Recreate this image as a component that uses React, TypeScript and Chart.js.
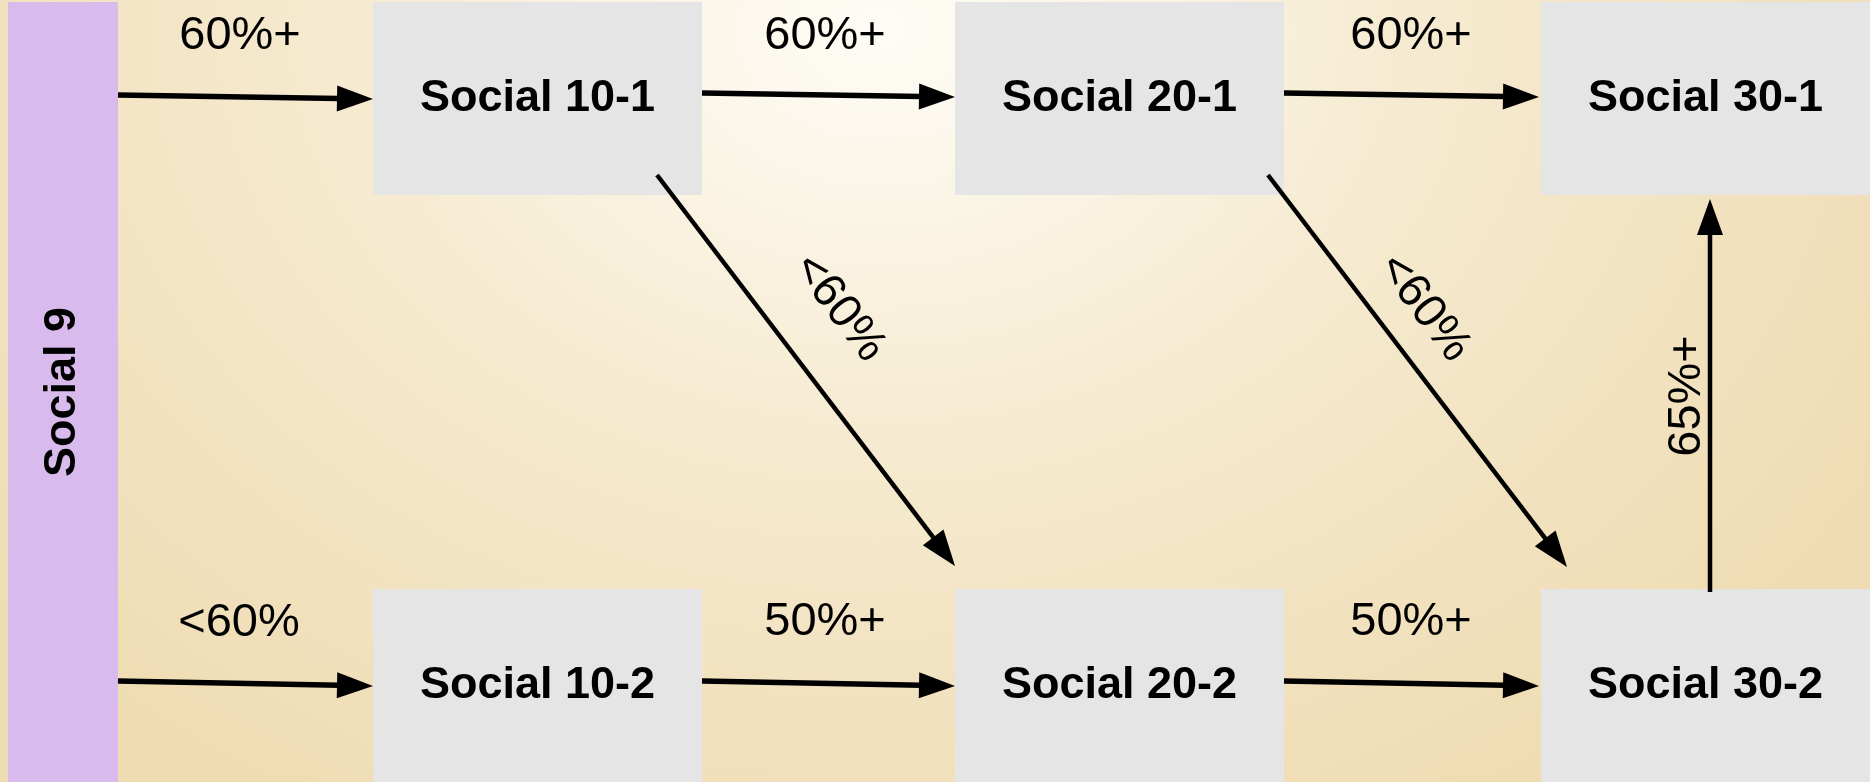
import { useEffect, useRef } from "react";
import { Chart, registerables } from "chart.js";

Chart.register(...registerables);

// ---- Diagram data (in the chart's data coordinate space: x 0..1870, y 0..782 top-down) ----
const nodeNames = ["Social 9", "Social 10-1", "Social 20-1", "Social 30-1", "Social 10-2", "Social 20-2", "Social 30-2"];
const nodeLeft = [8, 373, 955, 1541, 373, 955, 1541];
const nodeRight = [118, 702, 1284, 1870, 702, 1284, 1870];
const nodeTop = [2, 2, 2, 2, 589, 589, 589];
const nodeBottom = [782, 195, 195, 195, 782, 782, 782];
const nodeVertical = [true, false, false, false, false, false, false];
const nodeColors = ["#d8bbec", "#e5e5e5", "#e5e5e5", "#e5e5e5", "#e5e5e5", "#e5e5e5", "#e5e5e5"];

const edgeFromX = [118, 702, 1284, 118, 702, 1284, 657, 1268, 1710];
const edgeFromY = [95, 93, 93, 681, 681, 681, 175, 175, 592];
const edgeToX = [373, 955, 1539, 373, 955, 1539, 955, 1567, 1710];
const edgeToY = [99, 97, 97, 686, 686, 686, 566, 567, 199];
const edgeWidths = [5.5, 5.5, 5.5, 5.5, 5.5, 5.5, 4.5, 4.5, 4.5];
const edgeLabels = ["60%+", "60%+", "60%+", "<60%", "50%+", "50%+", "<60%", "<60%", "65%+"];
const labelX = [240, 825, 1411, 239, 825, 1411, 839, 1424, 1687];
const labelY = [36, 36, 36, 623, 622, 622, 308, 308, 396];
const labelAlong = [false, false, false, false, false, false, true, true, true];

const FONT = '"Liberation Sans", Arial, Helvetica, sans-serif';

const diagramPlugin = {
  id: "diagram",
  beforeDraw(chart: any) {
    const { ctx, scales } = chart;
    const xs = scales.x;
    const ys = scales.y;
    const w = chart.width;
    const h = chart.height;
    ctx.save();
    ctx.fillStyle = "#eedaad";
    ctx.fillRect(0, 0, w, h);
    // parchment-like background, lightest at top centre
    const cx = xs.getPixelForValue(880);
    const cy = ys.getPixelForValue(30);
    ctx.translate(cx, cy);
    ctx.scale(1.3, 1);
    const g = ctx.createRadialGradient(0, 0, 0, 0, 0, 900);
    g.addColorStop(0, "#fefcf6");
    g.addColorStop(0.2, "#fbf5e6");
    g.addColorStop(0.45, "#f6ebd1");
    g.addColorStop(0.7, "#f2e3c2");
    g.addColorStop(1, "#efdcb2");
    ctx.fillStyle = g;
    ctx.fillRect(-cx / 1.3 - 10, -cy - 10, w / 1.3 + 40, h + 40);
    ctx.restore();
  },
  afterDatasetsDraw(chart: any) {
    const { ctx, scales } = chart;
    const xs = scales.x;
    const ys = scales.y;
    const px = (v: number) => xs.getPixelForValue(v);
    const py = (v: number) => ys.getPixelForValue(v);

    ctx.save();
    // boxes
    nodeNames.forEach((name, i) => {
      const x0 = px(nodeLeft[i]);
      const x1 = px(nodeRight[i]);
      const y0 = py(nodeTop[i]);
      const y1 = py(nodeBottom[i]);
      ctx.fillStyle = nodeColors[i];
      ctx.fillRect(x0, y0, x1 - x0, y1 - y0);
      ctx.save();
      ctx.translate((x0 + x1) / 2, (y0 + y1) / 2);
      if (nodeVertical[i]) ctx.rotate(-Math.PI / 2);
      ctx.fillStyle = "#000";
      ctx.font = `bold 45px ${FONT}`;
      ctx.textAlign = "center";
      ctx.textBaseline = "middle";
      ctx.fillText(name, 0, 0);
      ctx.restore();
    });

    // arrows
    const headLen = 36;
    const headHalf = 13;
    edgeLabels.forEach((label, i) => {
      const x0 = px(edgeFromX[i]);
      const y0 = py(edgeFromY[i]);
      const x1 = px(edgeToX[i]);
      const y1 = py(edgeToY[i]);
      const ang = Math.atan2(y1 - y0, x1 - x0);
      const bx = x1 - Math.cos(ang) * (headLen - 2);
      const by = y1 - Math.sin(ang) * (headLen - 2);
      ctx.strokeStyle = "#000";
      ctx.lineWidth = edgeWidths[i];
      ctx.lineCap = "butt";
      ctx.beginPath();
      ctx.moveTo(x0, y0);
      ctx.lineTo(bx, by);
      ctx.stroke();
      ctx.fillStyle = "#000";
      ctx.beginPath();
      ctx.moveTo(x1, y1);
      const hx = x1 - Math.cos(ang) * headLen;
      const hy = y1 - Math.sin(ang) * headLen;
      ctx.lineTo(hx + Math.sin(ang) * headHalf, hy - Math.cos(ang) * headHalf);
      ctx.lineTo(hx - Math.sin(ang) * headHalf, hy + Math.cos(ang) * headHalf);
      ctx.closePath();
      ctx.fill();

      // label
      ctx.save();
      ctx.translate(px(labelX[i]), py(labelY[i]));
      if (labelAlong[i]) ctx.rotate(ang);
      ctx.font = `47px ${FONT}`;
      ctx.textAlign = "center";
      ctx.textBaseline = "middle";
      ctx.fillText(label, 0, 0);
      ctx.restore();
    });
    ctx.restore();
  },
};

export default function App() {
  const canvasRef = useRef<HTMLCanvasElement | null>(null);

  useEffect(() => {
    document.body.style.margin = "0";
    const canvas = canvasRef.current;
    if (!canvas) return;
    const chart = new Chart(canvas, {
      type: "scatter",
      data: {
        datasets: [
          {
            label: "nodes",
            data: nodeNames.map((_, i) => ({
              x: (nodeLeft[i] + nodeRight[i]) / 2,
              y: (nodeTop[i] + nodeBottom[i]) / 2,
            })),
            pointRadius: 0,
            pointHoverRadius: 0,
          },
        ],
      },
      options: {
        animation: false,
        responsive: true,
        maintainAspectRatio: false,
        layout: { padding: 0 },
        events: [],
        plugins: {
          legend: { display: false },
          tooltip: { enabled: false },
          title: { display: false },
        },
        scales: {
          x: { type: "linear", min: 0, max: 1870, display: false },
          y: { type: "linear", min: 0, max: 782, reverse: true, display: false },
        },
      },
      plugins: [diagramPlugin],
    });
    return () => chart.destroy();
  }, []);

  return (
    <div style={{ width: 1870, height: 782, position: "relative" }}>
      <canvas ref={canvasRef} />
    </div>
  );
}
